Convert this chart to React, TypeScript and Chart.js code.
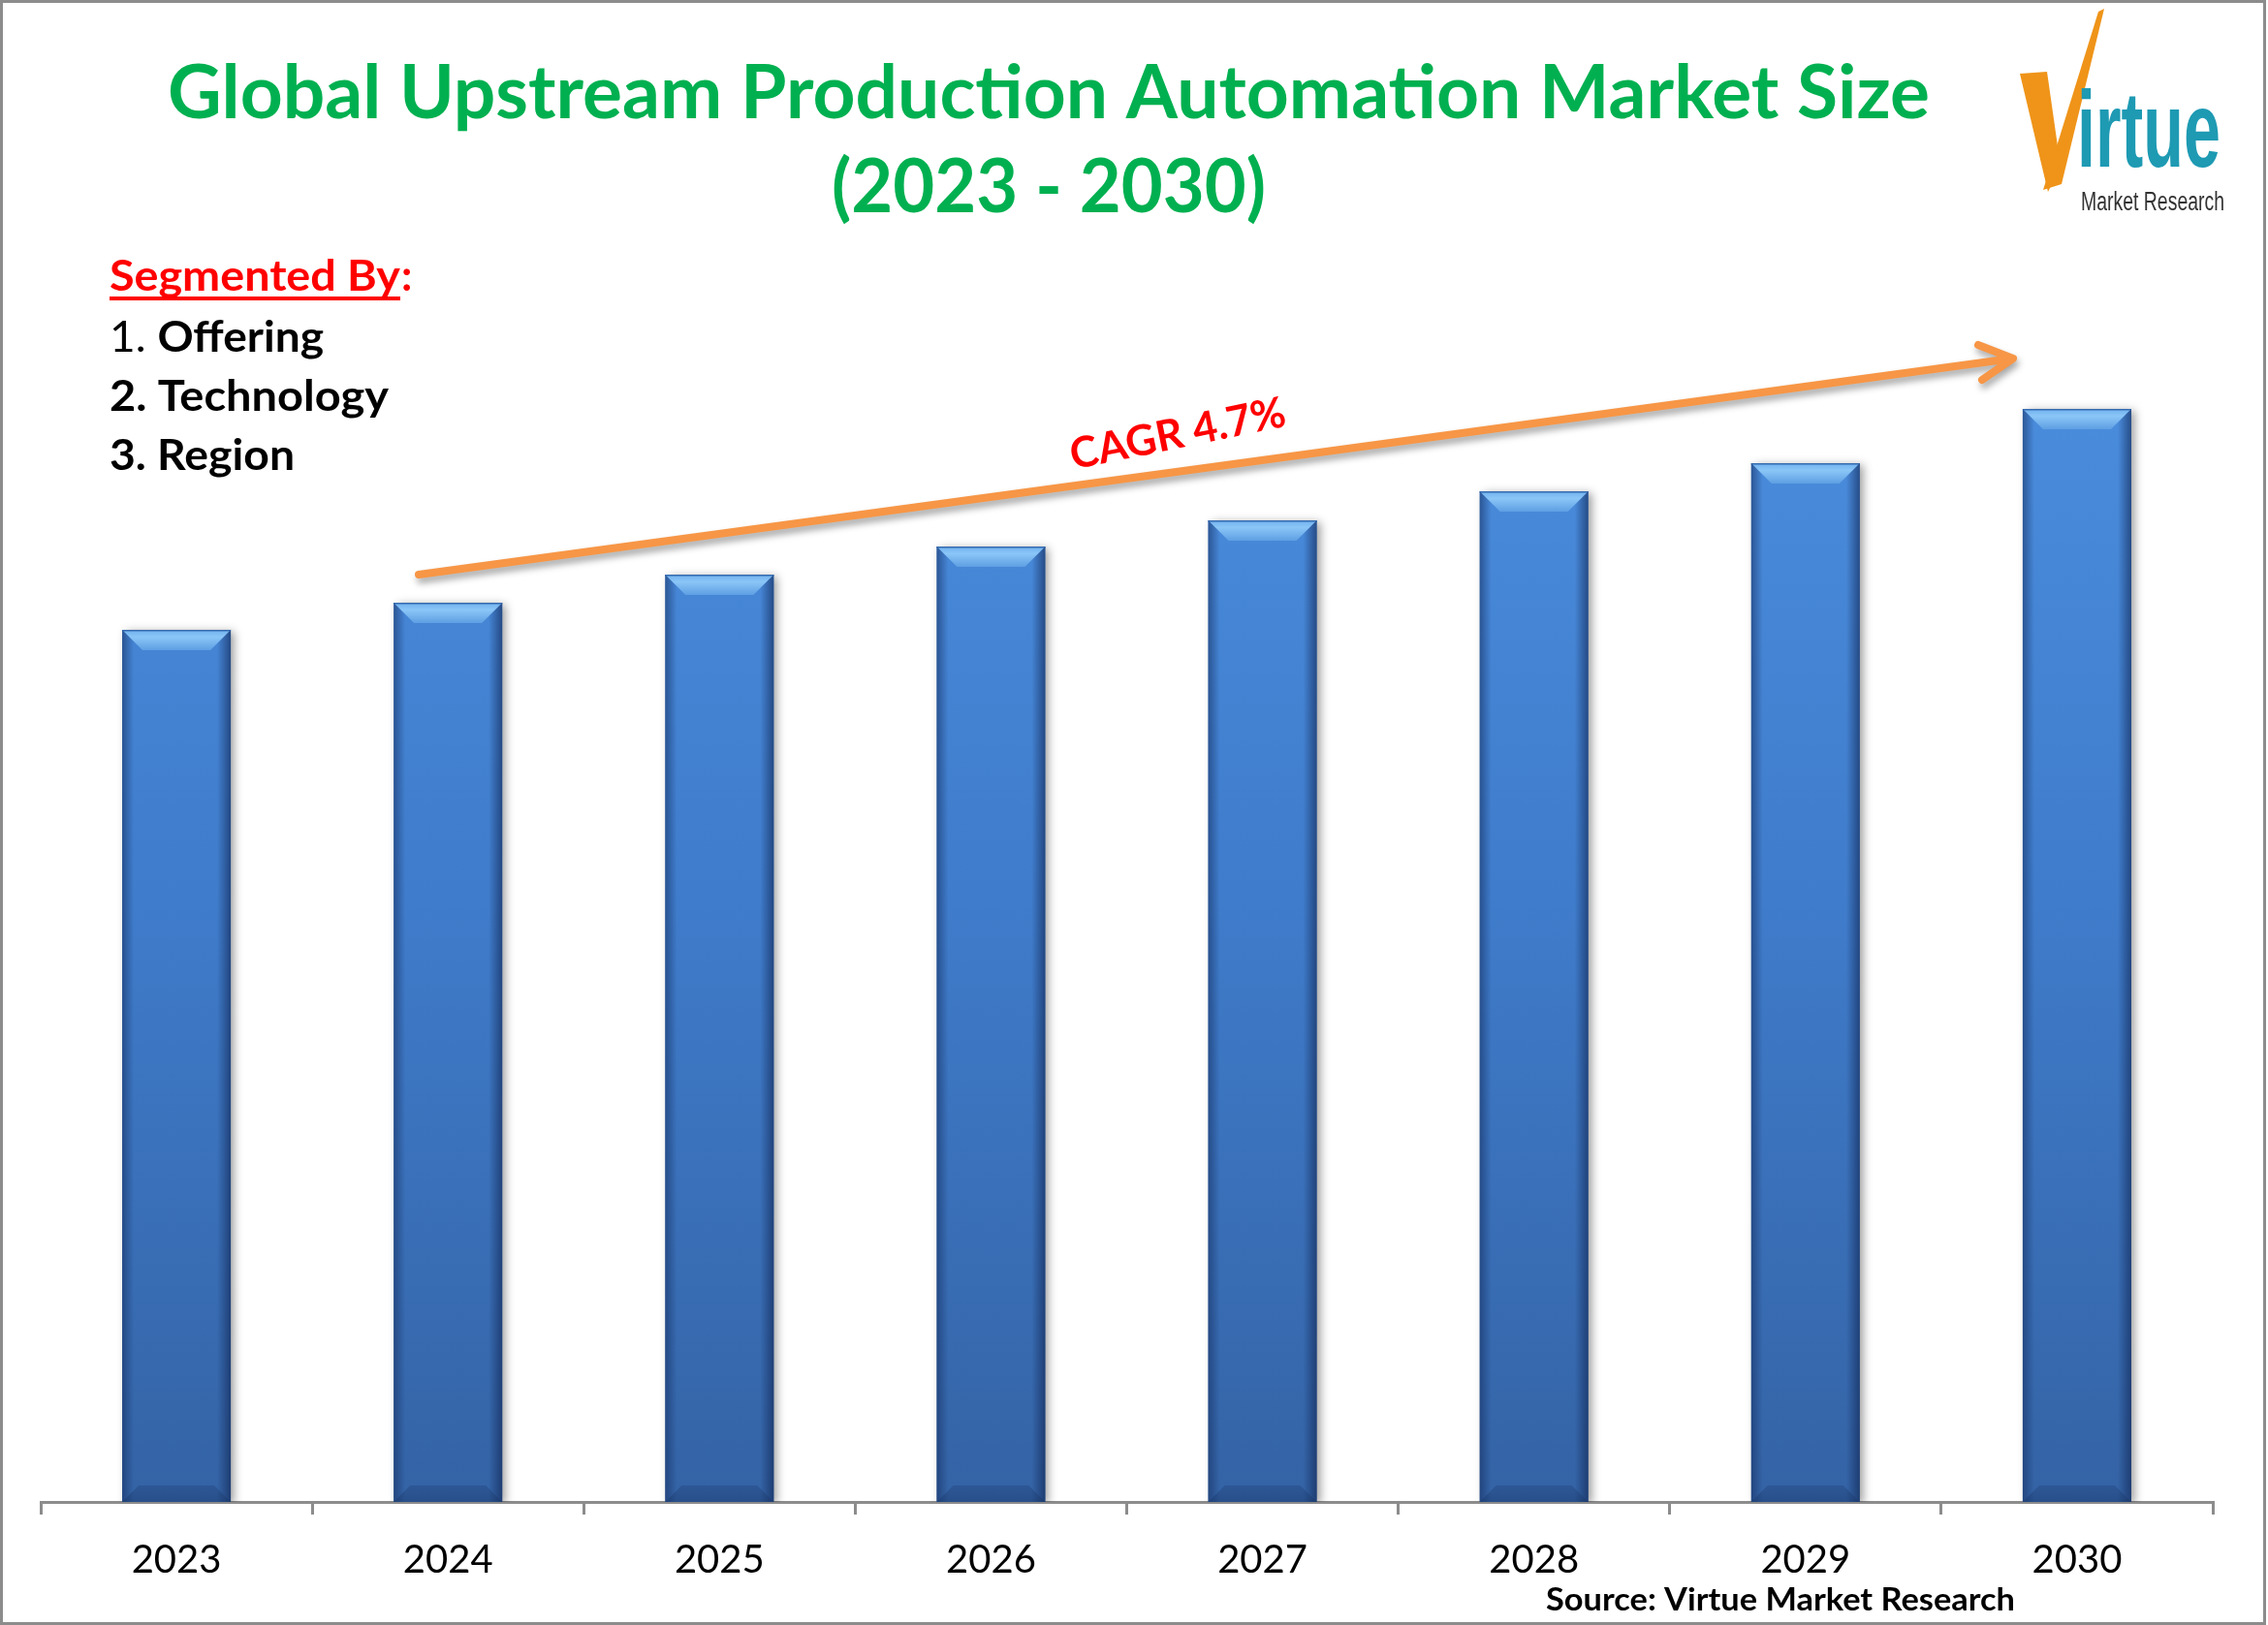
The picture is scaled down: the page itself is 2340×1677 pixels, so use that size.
import React, { useEffect, useRef } from 'react';
import { Chart, registerables } from 'chart.js';

Chart.register(...registerables);

// ---- data ----
const years = ['2023', '2024', '2025', '2026', '2027', '2028', '2029', '2030'];
const marketSize = [9.0, 9.28, 9.57, 9.86, 10.13, 10.43, 10.72, 11.28];
const titleLines = ['Global Upstream Production Automation Market Size', '(2023 - 2030)'];
const segmentHeading = 'Segmented By';
const segmentPrefixes = ['1. ', '2. ', '3. '];
const segments = ['Offering', 'Technology', 'Region'];
const cagrLabel = 'CAGR 4.7%';
const sourceLabel = 'Source: Virtue Market Research';
const logoWord = 'irtue';
const logoSub = 'Market Research';

const W = 2340;
const H = 1677;
const FONT = "Lato, 'Liberation Sans', sans-serif";
const NARROW = "'Liberation Sans Narrow', 'Liberation Sans', sans-serif";

function drawFitted(
  ctx: CanvasRenderingContext2D,
  text: string,
  x: number,
  y: number,
  font: string,
  color: string,
  targetW: number,
  align: CanvasTextAlign
) {
  ctx.save();
  ctx.font = font;
  const w = ctx.measureText(text).width;
  const sx = targetW / w;
  ctx.translate(x, y);
  ctx.scale(sx, 1);
  ctx.fillStyle = color;
  ctx.textAlign = align;
  ctx.textBaseline = 'alphabetic';
  ctx.fillText(text, 0, 0);
  ctx.restore();
}

function drawMixed(
  ctx: CanvasRenderingContext2D,
  a: string,
  fontA: string,
  b: string,
  fontB: string,
  x: number,
  y: number,
  color: string,
  targetW: number
) {
  ctx.save();
  ctx.font = fontA;
  const wa = ctx.measureText(a).width;
  ctx.font = fontB;
  const wb = ctx.measureText(b).width;
  const sx = targetW / (wa + wb);
  ctx.translate(x, y);
  ctx.scale(sx, 1);
  ctx.fillStyle = color;
  ctx.textAlign = 'left';
  ctx.textBaseline = 'alphabetic';
  ctx.font = fontA;
  ctx.fillText(a, 0, 0);
  ctx.font = fontB;
  ctx.fillText(b, wa, 0);
  ctx.restore();
}

const decorPlugin = {
  id: 'decor',
  beforeDraw(chart: any) {
    const ctx = chart.ctx as CanvasRenderingContext2D;
    ctx.save();
    ctx.fillStyle = '#ffffff';
    ctx.fillRect(0, 0, chart.width, chart.height);
    ctx.restore();
  },
  beforeDatasetsDraw(chart: any) {
    const ctx = chart.ctx as CanvasRenderingContext2D;
    ctx.save();
    ctx.shadowColor = 'rgba(0,0,0,0.38)';
    ctx.shadowBlur = 9;
    ctx.shadowOffsetX = 4;
    ctx.shadowOffsetY = 2;
  },
  afterDatasetsDraw(chart: any) {
    const ctx = chart.ctx as CanvasRenderingContext2D;
    ctx.restore();
    const meta = chart.getDatasetMeta(0);
    meta.data.forEach((el: any) => {
      const p = el.getProps(['x', 'y', 'width', 'base'], true);
      const l = p.x - p.width / 2;
      const r = p.x + p.width / 2;
      const t = p.y;
      const btm = p.base;
      const bt = 21;
      const bb = 17;
      ctx.save();
      // side shading
      let g = ctx.createLinearGradient(l, 0, l + 12, 0);
      g.addColorStop(0, 'rgba(20,45,95,0.55)');
      g.addColorStop(1, 'rgba(20,45,95,0)');
      ctx.fillStyle = g;
      ctx.fillRect(l, t, 12, btm - t);
      g = ctx.createLinearGradient(r - 14, 0, r, 0);
      g.addColorStop(0, 'rgba(15,35,80,0)');
      g.addColorStop(1, 'rgba(15,35,80,0.6)');
      ctx.fillStyle = g;
      ctx.fillRect(r - 14, t, 14, btm - t);
      // top bevel
      g = ctx.createLinearGradient(0, t, 0, t + bt);
      g.addColorStop(0, '#6FB0EE');
      g.addColorStop(0.35, '#8BC6F7');
      g.addColorStop(1, '#5E9FE3');
      ctx.fillStyle = g;
      ctx.beginPath();
      ctx.moveTo(l, t);
      ctx.lineTo(r, t);
      ctx.lineTo(r - bt, t + bt);
      ctx.lineTo(l + bt, t + bt);
      ctx.closePath();
      ctx.fill();
      ctx.fillStyle = 'rgba(40,90,160,0.8)';
      ctx.fillRect(l, t, r - l, 1.5);
      // bottom bevel
      g = ctx.createLinearGradient(0, btm - bb, 0, btm);
      g.addColorStop(0, 'rgba(25,55,105,0.28)');
      g.addColorStop(1, 'rgba(25,55,105,0.45)');
      ctx.fillStyle = g;
      ctx.beginPath();
      ctx.moveTo(l, btm);
      ctx.lineTo(r, btm);
      ctx.lineTo(r - bb, btm - bb);
      ctx.lineTo(l + bb, btm - bb);
      ctx.closePath();
      ctx.fill();
      ctx.restore();
    });
  },
  afterDraw(chart: any) {
    const ctx = chart.ctx as CanvasRenderingContext2D;
    // title
    drawFitted(ctx, titleLines[0], 1082, 122, `bold 76px ${FONT}`, '#00B050', 1818, 'center');
    drawFitted(ctx, titleLines[1], 1082, 219, `bold 76px ${FONT}`, '#00B050', 448, 'center');

    // segmented by
    drawFitted(ctx, segmentHeading, 113, 300, `bold 44px ${FONT}`, '#FF0000', 300, 'left');
    ctx.save();
    ctx.fillStyle = '#FF0000';
    ctx.fillRect(113, 306, 300, 4);
    ctx.font = `bold 44px ${FONT}`;
    ctx.textBaseline = 'alphabetic';
    ctx.fillText(':', 414, 300);
    ctx.restore();
    const segW = [221, 288, 191];
    segments.forEach((s, i) => {
      const preFont = i === 0 ? `normal 44px ${FONT}` : `bold 44px ${FONT}`;
      drawMixed(ctx, segmentPrefixes[i], preFont, s, `bold 44px ${FONT}`, 113, 363 + i * 61, '#000000', segW[i]);
    });

    // arrow
    ctx.save();
    ctx.shadowColor = 'rgba(0,0,0,0.35)';
    ctx.shadowBlur = 7;
    ctx.shadowOffsetX = 2;
    ctx.shadowOffsetY = 5;
    ctx.strokeStyle = '#F79646';
    ctx.lineWidth = 8;
    ctx.lineCap = 'round';
    ctx.lineJoin = 'round';
    ctx.beginPath();
    ctx.moveTo(432, 593);
    ctx.lineTo(2076, 370);
    ctx.moveTo(2041, 356);
    ctx.lineTo(2077, 370);
    ctx.lineTo(2045, 392);
    ctx.stroke();
    ctx.restore();

    // CAGR label
    ctx.save();
    ctx.translate(1218, 462);
    ctx.rotate((-11.5 * Math.PI) / 180);
    drawFitted(ctx, cagrLabel, 0, 0, `bold 44px ${FONT}`, '#FF0000', 226, 'center');
    ctx.restore();

    // logo
    ctx.save();
    ctx.fillStyle = '#EF9419';
    ctx.beginPath();
    ctx.moveTo(2084, 76);
    ctx.lineTo(2112, 74);
    ctx.lineTo(2126, 172);
    ctx.lineTo(2113, 198);
    ctx.closePath();
    ctx.fill();
    ctx.beginPath();
    ctx.moveTo(2108, 196);
    ctx.lineTo(2165, 12);
    ctx.lineTo(2171, 9);
    ctx.lineTo(2127, 190);
    ctx.closePath();
    ctx.fill();
    ctx.restore();
    drawFitted(ctx, logoWord, 2143, 172, `bold 112px ${NARROW}`, '#1E9AB3', 148, 'left');
    drawFitted(ctx, logoSub, 2147, 217, `normal 27px ${NARROW}`, '#333333', 148, 'left');

    // source
    drawFitted(ctx, sourceLabel, 1595, 1662, `bold 33px ${FONT}`, '#000000', 484, 'left');

    // frame
    ctx.save();
    ctx.strokeStyle = '#8c8c8c';
    ctx.lineWidth = 3;
    ctx.strokeRect(1.5, 1.5, W - 5, H - 3);
    ctx.restore();
  },
};

export default function App() {
  const ref = useRef<HTMLCanvasElement | null>(null);
  useEffect(() => {
    if (!ref.current) return;
    const chart = new Chart(ref.current, {
      type: 'bar',
      data: {
        labels: years,
        datasets: [
          {
            data: marketSize,
            backgroundColor: (c: any) => {
              const { chart: ch } = c;
              const area = ch.chartArea;
              if (!area) return '#3F7BC8';
              const g = ch.ctx.createLinearGradient(0, 420, 0, area.bottom);
              g.addColorStop(0, '#4A8CDC');
              g.addColorStop(0.45, '#3F7CCB');
              g.addColorStop(1, '#3463A5');
              return g;
            },
            borderWidth: 0,
            barPercentage: 0.4,
            categoryPercentage: 1.0,
          },
        ],
      },
      options: {
        responsive: false,
        animation: false,
        devicePixelRatio: 1,
        layout: { padding: { top: 300, left: 42, right: 57, bottom: 0 } },
        plugins: {
          legend: { display: false },
          tooltip: { enabled: false },
          title: { display: false },
        },
        scales: {
          x: {
            grid: {
              display: true,
              drawOnChartArea: false,
              drawTicks: true,
              tickLength: 13,
              color: '#8c8c8c',
              lineWidth: 3,
              offset: true,
            },
            border: { display: true, color: '#8c8c8c', width: 3 },
            ticks: {
              color: '#000000',
              font: { family: FONT, size: 40 },
              padding: 23,
              maxRotation: 0,
            },
            afterFit: (s: any) => {
              s.height = 127;
            },
          },
          y: { display: false, min: 0, max: 12.5 },
        },
      },
      plugins: [decorPlugin],
    });
    return () => chart.destroy();
  }, []);
  return (
    <div style={{ position: 'absolute', left: 0, top: 0, width: W, height: H }}>
      <canvas ref={ref} width={W} height={H} style={{ display: 'block', width: W, height: H }} />
    </div>
  );
}
